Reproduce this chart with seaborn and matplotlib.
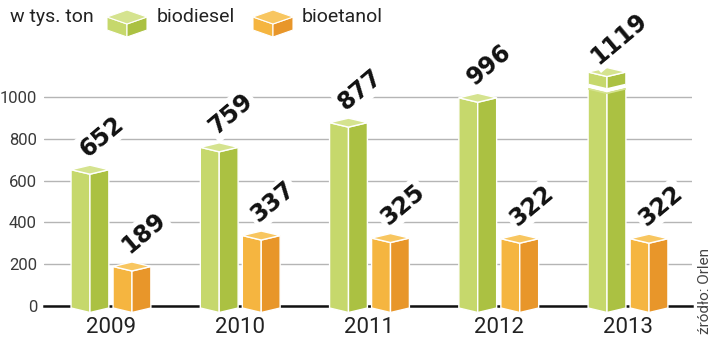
import numpy as np
import pandas as pd
import matplotlib
matplotlib.use("Agg")
import matplotlib.pyplot as plt
import seaborn as sns
from matplotlib.patches import Polygon
from matplotlib import transforms

# ---- data ----
years = ["2009", "2010", "2011", "2012", "2013"]
biodiesel = [652, 759, 877, 996, 1119]
bioetanol = [189, 337, 325, 322, 322]
series = ["biodiesel", "bioetanol"]
y_ticks = [0, 200, 400, 600, 800, 1000]
unit_label = "w tys. ton"
source_label = "źródło: Orlen"

df = pd.DataFrame({
    "rok": years * 2,
    "wartosc": biodiesel + bioetanol,
    "rodzaj": [series[0]] * len(years) + [series[1]] * len(years),
})

# ---- styles ----
G_L, G_R, G_T = "#c6d86c", "#abc142", "#d5e38f"
O_L, O_R, O_T = "#f5b540", "#e8962a", "#f8c660"
faces = {G_L: (G_L, G_R, G_T), O_L: (O_L, O_R, O_T)}

sns.set_theme(style="white")
plt.rcParams["font.family"] = ["Roboto", "DejaVu Sans"]

W, H = 720, 340
fig = plt.figure(figsize=(W / 100, H / 100), dpi=100)
ax = fig.add_axes([44 / W, 34 / H, 648 / W, 286 / H])

sns.barplot(data=df, x="rok", y="wartosc", hue="rodzaj",
            palette=[G_L, O_L], width=0.65, gap=0.1, saturation=1,
            legend=False, ax=ax)

YMAX = 1368
ax.set_ylim(0, YMAX)
ax.set_xlim(-0.518, 4.495)
px_per_unit = 286 / YMAX
d = 4.5 / px_per_unit        # half height of top diamond
b = -2.0 / px_per_unit       # bottom corner level

for rect in list(ax.patches):
    fc = matplotlib.colors.to_hex(rect.get_facecolor())
    cl, cr, ct = faces.get(fc, (fc, fc, fc))
    xl = rect.get_x()
    w = rect.get_width()
    xr = xl + w
    xc = xl + w / 2
    v = rect.get_height()
    rect.set_visible(False)
    left = [(xl, b), (xl, v), (xc, v - d), (xc, b - d)]
    right = [(xc, b - d), (xc, v - d), (xr, v), (xr, b)]
    top = [(xl, v), (xc, v + d), (xr, v), (xc, v - d)]
    for pts, c in ((left, cl), (right, cr), (top, ct)):
        ax.add_patch(Polygon(pts, closed=True, fc=c, ec="white", lw=1.0,
                             zorder=3, clip_on=False))
    if v > max(y_ticks):
        bk = v - 66
        ax.plot([xl, xc, xr], [bk, bk - d, bk],
                color="white", lw=3.2, zorder=3.5, solid_capstyle="butt")
        ax.plot([xl, xc, xr], [bk - 14, bk - 14 - d, bk - 14],
                color=ct, lw=1.2, zorder=3.6, solid_capstyle="butt")
    ax.annotate(f"{int(round(v))}", xy=(xc, v), xytext=(8.5, 24),
                textcoords="offset points", rotation=40, rotation_mode="anchor",
                ha="center", va="center", fontsize=17, fontweight="bold",
                family="DejaVu Sans", color="#111111",
                bbox=dict(fc="white", ec="none", pad=2.0),
                zorder=5, annotation_clip=False)

ax.set_yticks(y_ticks)
ax.set_yticklabels([str(t) for t in y_ticks])
ax.grid(axis="y", color="#b5b5b5", lw=1.0)
ax.grid(axis="x", visible=False)
ax.set_axisbelow(True)
for s in ("left", "right", "top"):
    ax.spines[s].set_visible(False)
ax.spines["bottom"].set_color("#111111")
ax.spines["bottom"].set_linewidth(1.8)
ax.spines["bottom"].set_zorder(2)
ax.tick_params(axis="y", length=0, pad=5, labelsize=12, labelcolor="#3a3a3a")
ax.tick_params(axis="x", length=0, pad=8, labelsize=16, labelcolor="#222222")
ax.set_xlabel("")
ax.set_ylabel("")

# ---- legend in figure pixels (origin top-left) ----
T = transforms.Affine2D().scale(1 / 100, -1 / 100).translate(0, H / 100) + fig.dpi_scale_trans


def cube(x0, cols):
    cl, cr, ct = cols
    w = 40
    xc = x0 + w / 2
    xr = x0 + w
    top = [(x0, 17), (xc, 10), (xr, 17), (xc, 24)]
    left = [(x0, 17), (xc, 24), (xc, 37), (x0, 30)]
    right = [(xc, 24), (xr, 17), (xr, 30), (xc, 37)]
    for pts, c in ((left, cl), (right, cr), (top, ct)):
        fig.add_artist(Polygon(pts, closed=True, fc=c, ec="white", lw=0.8,
                               transform=T))


fig.text(10, 22, unit_label, transform=T, fontsize=14, color="#222222",
         ha="left", va="baseline")
cube(107, faces[G_L])
fig.text(157, 22, series[0], transform=T, fontsize=14, color="#222222",
         ha="left", va="baseline")
cube(253, faces[O_L])
fig.text(302, 22, series[1], transform=T, fontsize=14, color="#222222",
         ha="left", va="baseline")

fig.text(705, 291, source_label, transform=T, rotation=90, fontsize=11,
         color="#444444", ha="center", va="center")

fig.savefig("out.png", dpi=100)
